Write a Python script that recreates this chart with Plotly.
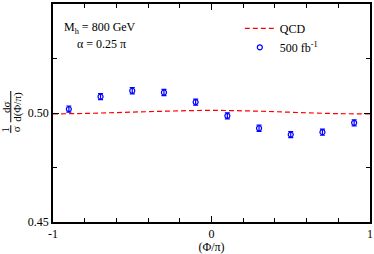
import plotly.graph_objects as go

# Data
phi_points = [-0.9, -0.7, -0.5, -0.3, -0.1, 0.1, 0.3, 0.5, 0.7, 0.9]
dist_500 = [0.5018, 0.5075, 0.5102, 0.5094, 0.5050, 0.4987, 0.4930, 0.4901, 0.4912, 0.4955]
err_500 = [0.0014, 0.0014, 0.0014, 0.0014, 0.0014, 0.0014, 0.0014, 0.0014, 0.0014, 0.0014]

phi_qcd = [-1.0, -0.8, -0.6, -0.4, -0.2, 0.0, 0.2, 0.4, 0.6, 0.8, 1.0]
dist_qcd = [0.4996, 0.4998, 0.5002, 0.5006, 0.5010, 0.5012, 0.5010, 0.5006, 0.5001, 0.4997, 0.4996]

x_tickvals = [-1, 0, 1]
x_ticktext = ["-1", "0", "1"]
y_tickvals = [0.45, 0.50, 0.55]
y_ticktext = ["0.45", "0.50", "0.55"]

FONT = "Liberation Serif"
W, H = 374, 254
ML, MR, MT, MB = 53, 2, 4, 27
PW = W - ML - MR
PH = H - MT - MB


def px_to_paper_x(px):
    return (px - ML) / PW


def px_to_paper_y(py):
    return 1 - (py - MT) / PH


fig = go.Figure()
fig.add_trace(go.Scatter(
    x=phi_qcd, y=dist_qcd, mode="lines", name="QCD",
    line=dict(color="#ff0000", width=1.2, dash="5px,3px", shape="spline"),
))
fig.add_trace(go.Scatter(
    x=phi_points, y=dist_500, mode="markers", name="500 fb<sup>-1</sup>",
    marker=dict(symbol="circle-open", size=5, color="#0000ff", line=dict(width=1.2, color="#0000ff")),
    error_y=dict(type="data", array=err_500, visible=True, color="#0000ff", thickness=1.2, width=2.5),
))

axis_common = dict(
    showline=True, linecolor="black", linewidth=1.5, mirror="allticks",
    ticks="inside", ticklen=6, tickwidth=1, tickcolor="black",
    showgrid=False, zeroline=False,
    tickfont=dict(family=FONT, size=12, color="black"),
)

fig.update_xaxes(
    range=[-1, 1], tickvals=x_tickvals, ticktext=x_ticktext,
    minor=dict(dtick=0.2, tick0=-1, ticks="inside", ticklen=4, tickcolor="black", showgrid=False),
    title=dict(text="(Φ/π)", font=dict(family=FONT, size=12, color="black"), standoff=2),
    **axis_common,
)
fig.update_yaxes(
    range=[0.45, 0.55], tickvals=y_tickvals, ticktext=y_ticktext,
    minor=dict(dtick=0.025, tick0=0.45, ticks="inside", ticklen=4, tickcolor="black", showgrid=False),
    **axis_common,
)

ann_font = dict(family=FONT, size=12, color="black")
frac_font = dict(family=FONT, size=11, color="black")
annotations = [
    dict(text="M<sub>h</sub> = 800 GeV", x=px_to_paper_x(62), y=px_to_paper_y(29), xref="paper", yref="paper",
         xanchor="left", yanchor="middle", showarrow=False, font=ann_font),
    dict(text="α = 0.25 π", x=px_to_paper_x(75), y=px_to_paper_y(45), xref="paper", yref="paper",
         xanchor="left", yanchor="middle", showarrow=False, font=ann_font),
    # y-axis title as a rotated fraction: (1/σ)(dσ/d(Φ/π))
    dict(text="dσ", x=px_to_paper_x(5), y=px_to_paper_y(109), xref="paper", yref="paper",
         xanchor="center", yanchor="middle", showarrow=False, textangle=-90, font=frac_font),
    dict(text="d(Φ/π)", x=px_to_paper_x(17), y=px_to_paper_y(109), xref="paper", yref="paper",
         xanchor="center", yanchor="middle", showarrow=False, textangle=-90, font=frac_font),
    dict(text="1", x=px_to_paper_x(5), y=px_to_paper_y(132), xref="paper", yref="paper",
         xanchor="center", yanchor="middle", showarrow=False, textangle=-90, font=frac_font),
    dict(text="σ", x=px_to_paper_x(16), y=px_to_paper_y(132), xref="paper", yref="paper",
         xanchor="center", yanchor="middle", showarrow=False, textangle=-90, font=frac_font),
]
shapes = [
    dict(type="line", xref="paper", yref="paper",
         x0=px_to_paper_x(10.5), x1=px_to_paper_x(10.5), y0=px_to_paper_y(93), y1=px_to_paper_y(125),
         line=dict(color="black", width=1)),
    dict(type="line", xref="paper", yref="paper",
         x0=px_to_paper_x(10.5), x1=px_to_paper_x(10.5), y0=px_to_paper_y(128), y1=px_to_paper_y(136),
         line=dict(color="black", width=1)),
]

fig.update_layout(
    width=W, height=H,
    margin=dict(l=ML, r=MR, t=MT, b=MB),
    paper_bgcolor="white", plot_bgcolor="white",
    font=dict(family=FONT, size=12, color="black"),
    showlegend=True,
    legend=dict(x=px_to_paper_x(241), y=px_to_paper_y(14), xanchor="left", yanchor="top",
                bgcolor="rgba(0,0,0,0)", font=dict(family=FONT, size=12, color="black"),
                itemwidth=30, tracegroupgap=0),
    annotations=annotations,
    shapes=shapes,
)

fig.write_html("out.html", config={"displayModeBar": False},
               post_script="document.body.style.margin='0';document.body.style.overflow='hidden';")
